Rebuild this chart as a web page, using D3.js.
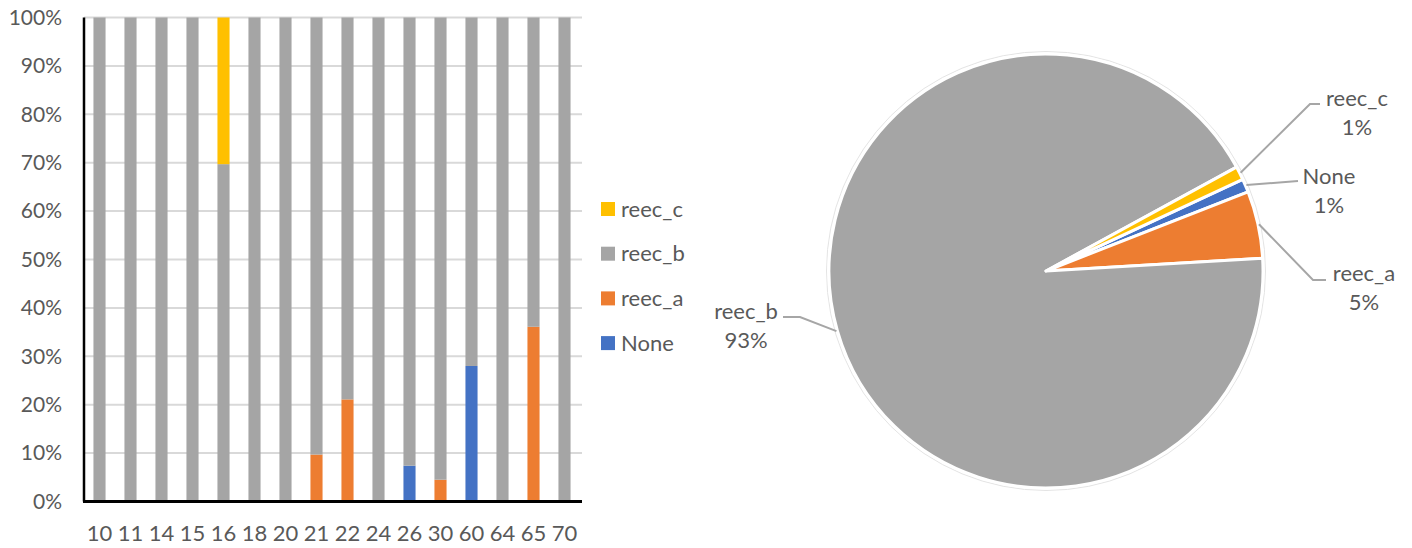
<!DOCTYPE html>
<html>
<head>
<meta charset="utf-8">
<script src="https://cdn.jsdelivr.net/npm/d3@7"></script>
<style>
  html, body { margin: 0; padding: 0; background: #fff; }
  svg { display: block; font-family: Lato, "Noto Sans", sans-serif; }
</style>
</head>
<body>
<svg id="chart" width="1412" height="548"></svg>
<script>
// Categories along the bar chart axis
const categories = ["10","11","14","15","16","18","20","21","22","24","26","30","60","64","65","70"];

// Share of each series per category (stacked to 100%)
const seriesNone  = [0, 0, 0, 0, 0,     0, 0, 0,     0,     0, 0.074, 0,     0.28, 0, 0,     0];
const seriesReecA = [0, 0, 0, 0, 0,     0, 0, 0.097, 0.211, 0, 0,     0.045, 0,    0, 0.361, 0];
const seriesReecC = [0, 0, 0, 0, 0.303, 0, 0, 0,     0,     0, 0,     0,     0,    0, 0,     0];
// reec_b fills the remainder of each column
const seriesReecB = categories.map((_, i) => 1 - seriesNone[i] - seriesReecA[i] - seriesReecC[i]);

const seriesNames  = ["None", "reec_a", "reec_b", "reec_c"];
const seriesColors = ["#4472C4", "#ED7D31", "#A5A5A5", "#FFC000"];
const yTicks = [0, 0.1, 0.2, 0.3, 0.4, 0.5, 0.6, 0.7, 0.8, 0.9, 1.0];

// Overall shares shown in the pie
const pieNames  = ["None", "reec_a", "reec_b", "reec_c"];
const pieValues = [1, 5, 93, 1];

const svg = d3.select("#chart");
const textColor = "#595959";
const fontSize = 22;

// ---------- Stacked 100% column chart ----------
const plot = { left: 84, right: 580, top: 17.5, bottom: 501.5 };

const x = d3.scaleBand().domain(categories).range([plot.left, plot.right]).paddingInner(0.61).paddingOuter(0.305);
const y = d3.scaleLinear().domain([0, 1]).range([plot.bottom, plot.top]);

// gridlines
svg.append("g")
  .selectAll("line")
  .data(yTicks.filter(t => t > 0))
  .join("line")
  .attr("x1", plot.left).attr("x2", plot.right + 2)
  .attr("y1", d => y(d)).attr("y2", d => y(d))
  .attr("stroke", "#d9d9d9").attr("stroke-width", 2);

const rows = categories.map((c, i) => ({
  cat: c, None: seriesNone[i], reec_a: seriesReecA[i], reec_b: seriesReecB[i], reec_c: seriesReecC[i]
}));
const stacked = d3.stack().keys(seriesNames)(rows);

svg.append("g")
  .selectAll("g")
  .data(stacked)
  .join("g")
  .attr("fill", (d, i) => seriesColors[i])
  .selectAll("rect")
  .data(d => d)
  .join("rect")
  .attr("x", d => x(d.data.cat))
  .attr("width", x.bandwidth())
  .attr("y", d => y(d[1]))
  .attr("height", d => Math.max(0, y(d[0]) - y(d[1])));

// axes
const yAxis = d3.axisLeft(y).tickValues(yTicks).tickSize(0).tickPadding(22).tickFormat(d3.format(".0%"));
const gy = svg.append("g").attr("transform", `translate(${plot.left},0)`).call(yAxis);
gy.select(".domain").remove();
gy.selectAll("text").attr("fill", textColor).attr("font-size", 21).attr("font-family", "Lato, 'Noto Sans', sans-serif");

const xAxis = d3.axisBottom(x).tickSize(0).tickPadding(24);
const gx = svg.append("g").attr("transform", `translate(0,${plot.bottom})`).call(xAxis);
gx.select(".domain").remove();
gx.selectAll("text").attr("fill", textColor).attr("font-size", fontSize).attr("font-family", "Lato, 'Noto Sans', sans-serif");

svg.append("line")
  .attr("x1", plot.left).attr("x2", plot.left)
  .attr("y1", plot.top).attr("y2", plot.bottom)
  .attr("stroke", "#000").attr("stroke-width", 2.5);
svg.append("line")
  .attr("x1", plot.left - 1).attr("x2", plot.right + 2)
  .attr("y1", plot.bottom).attr("y2", plot.bottom)
  .attr("stroke", "#000").attr("stroke-width", 3);

// legend (top entry is the top of the stack)
const legendOrder = seriesNames.map((n, i) => ({ name: n, color: seriesColors[i] })).reverse();
const legend = svg.append("g").attr("transform", "translate(601,209)");
const li = legend.selectAll("g").data(legendOrder).join("g")
  .attr("transform", (d, i) => `translate(0,${i * 44.7})`);
li.append("rect").attr("x", 0).attr("y", -7).attr("width", 14).attr("height", 14).attr("fill", d => d.color);
li.append("text").attr("x", 20).attr("y", 0).attr("dy", "0.35em")
  .attr("fill", textColor).attr("font-size", 22).text(d => d.name);

// ---------- Pie chart ----------
const cx = 1046, cy = 271, radius = 217;
const startDeg = 65;
const pie = d3.pie().sort(null).value(d => d.value)
  .startAngle(startDeg * Math.PI / 180)
  .endAngle(startDeg * Math.PI / 180 + 2 * Math.PI);
const pieData = pie(pieNames.map((n, i) => ({ name: n, value: pieValues[i], color: seriesColors[seriesNames.indexOf(n)] })));
const arc = d3.arc().innerRadius(0).outerRadius(radius);

const pg = svg.append("g").attr("transform", `translate(${cx},${cy})`);
pg.append("circle").attr("r", radius + 2.5).attr("fill", "none").attr("stroke", "#e4e4e4").attr("stroke-width", 1);
pg.selectAll("path").data(pieData).join("path")
  .attr("d", arc)
  .attr("fill", d => d.data.color)
  .attr("stroke", "#fff").attr("stroke-width", 3).attr("stroke-linejoin", "round");

// label placement: text centre and leader elbow for each slice
const labelLayout = {
  "reec_c": { tx: 1357, ty: 98,  elbow: [1310, 104], end: [1320, 104] },
  "None":   { tx: 1329, ty: 176, elbow: [1298, 181], end: [1298, 181] },
  "reec_a": { tx: 1364, ty: 273, elbow: [1313, 280], end: [1326, 280] },
  "reec_b": { tx: 746,  ty: 311, elbow: [800, 317],  end: [783, 317] }
};

const labels = svg.append("g");
pieData.forEach(d => {
  const L = labelLayout[d.data.name];
  const mid = (d.startAngle + d.endAngle) / 2;
  const sx = cx + (radius + 1) * Math.sin(mid);
  const sy = cy - (radius + 1) * Math.cos(mid);
  labels.append("path")
    .attr("d", d3.line()([[sx, sy], L.elbow, L.end]))
    .attr("fill", "none").attr("stroke", "#a6a6a6").attr("stroke-width", 2);
  const pct = Math.round(d.value / d3.sum(pieValues) * 100) + "%";
  const t = labels.append("text").attr("text-anchor", "middle")
    .attr("fill", textColor).attr("font-size", fontSize);
  t.append("tspan").attr("x", L.tx).attr("y", L.ty).attr("dy", "0.35em").text(d.data.name);
  t.append("tspan").attr("x", L.tx).attr("y", L.ty + 29).attr("dy", "0.35em").text(pct);
});
</script>
</body>
</html>
